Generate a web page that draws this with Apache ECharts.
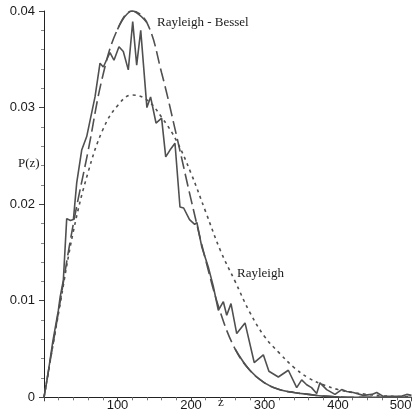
<!DOCTYPE html>
<html>
<head>
<meta charset="utf-8">
<script src="https://cdn.jsdelivr.net/npm/echarts@6/dist/echarts.min.js"></script>
<style>
  html, body { margin: 0; padding: 0; background: #fff; }
  #chart { width: 417px; height: 417px; }
</style>
</head>
<body>
<div id="chart"></div>
<script>
// z grid for the two smooth model curves
const zGrid = [0, 20, 40, 60, 80, 100, 120, 140, 160, 180, 200, 220, 240, 260, 280, 300,
  320, 340, 360, 380, 400, 420, 440, 460, 480, 500]

// Rayleigh - Bessel (long dashes)
const besselP = [0, 0.0090, 0.0180, 0.0255, 0.0333, 0.0381, 0.0400, 0.0388, 0.0336, 0.0272,
  0.0205, 0.0142, 0.0088, 0.0050, 0.0028, 0.0015, 0.0008, 0.0005, 0.0003, 0.00012,
  0.00004, 0, 0, 0, 0, 0]

// Rayleigh (short dashes)
const rayleighP = [0, 0.0088, 0.0172, 0.0233, 0.0277, 0.0302, 0.0313, 0.0308, 0.0290, 0.0266,
  0.0232, 0.0192, 0.0152, 0.0120, 0.0088, 0.0063, 0.0046, 0.0031, 0.0020, 0.0013,
  0.0008, 0.0005, 0.0003, 0.00015, 0.00008, 0.00004]

// simulated distribution (solid, jagged)
const simZ = [0, 5, 12, 19.5, 22, 26.3, 30.9, 36, 40, 44.5, 51.3, 58.1, 69.4, 76.2, 80.7,
  89.8, 95.2, 102, 107.9, 114.7, 120.7, 126.1, 131.6, 140, 145, 152.4, 160, 165.6, 171.4,
  178.2, 185, 190, 198, 205, 208, 214.6, 223.5, 230.3, 237.2, 244, 248.6, 254.4, 262.2,
  273.5, 286, 298.4, 306, 318.8, 332.4, 343.8, 350.6, 357.4, 364, 371, 375.5, 384.6,
  395.9, 405, 412, 420.8, 434.4, 446, 452.7, 461.6, 470, 480, 486, 493.5, 500]
const simP = [0, 0.0022, 0.0058, 0.0090, 0.0104, 0.0121, 0.0185, 0.0183, 0.0184, 0.0222,
  0.0256, 0.0270, 0.0311, 0.0346, 0.0342, 0.0357, 0.0349, 0.0363, 0.0358, 0.0339, 0.0389,
  0.0344, 0.0380, 0.0300, 0.0311, 0.0284, 0.0289, 0.0249, 0.0256, 0.0263, 0.0197, 0.0196,
  0.0184, 0.0179, 0.0181, 0.0156, 0.0135, 0.0115, 0.0090, 0.0099, 0.0085, 0.0097, 0.0066,
  0.0077, 0.0036, 0.0044, 0.0027, 0.0021, 0.0028, 0.0010, 0.0018, 0.0013, 0.0010, 0.0004,
  0.0015, 0.0008, 0.0003, 0.0008, 0.0006, 0.0005, 0.0002, 0.0003, 0.0005, 0.0001, 0.0001,
  0.0001, 0.0001, 0.0003, 0.0002]

const yTicks = [0, 0.01, 0.02, 0.03, 0.04]
const xTicks = [0, 100, 200, 300, 400, 500]

const lineColor = '#505050'
const pairs = (xs, ys) => xs.map((x, i) => [x, ys[i]])

// parts of the Rayleigh - Bessel curve that show up unbroken in the original
const besselSolid = zGrid.map((z, i) =>
  (z >= 100 && z <= 140) || z >= 260 ? [z, besselP[i]] : [z, null])

const chart = echarts.init(document.getElementById('chart'))

const sansFont = { fontFamily: 'Liberation Sans', fontSize: 13, color: '#1a1a1a' }
const serifFont = { fontFamily: 'Liberation Serif', fontSize: 13, fill: '#1a1a1a' }

chart.setOption({
  animation: false,
  backgroundColor: '#fff',
  grid: { left: 44, right: 5.5, top: 11, bottom: 19.7 },
  xAxis: {
    type: 'value',
    min: xTicks[0],
    max: xTicks[xTicks.length - 1],
    interval: 100,
    splitLine: { show: false },
    axisLine: { onZero: false, lineStyle: { color: '#222', width: 1 } },
    axisTick: { length: 4, lineStyle: { color: '#444' } },
    minorTick: { show: true, splitNumber: 5, length: 3, lineStyle: { color: '#777' } },
    axisLabel: {
      ...sansFont,
      margin: 2,
      showMinLabel: false,
      alignMaxLabel: 'right'
    }
  },
  yAxis: {
    type: 'value',
    min: yTicks[0],
    max: yTicks[yTicks.length - 1],
    interval: 0.01,
    splitLine: { show: false },
    axisLine: { onZero: false, lineStyle: { color: '#222', width: 1 } },
    axisTick: { length: 5, lineStyle: { color: '#444' } },
    minorTick: { show: true, splitNumber: 5, length: 3, lineStyle: { color: '#888' } },
    axisLabel: {
      ...sansFont,
      margin: 9,
      formatter: v => (v === 0 ? '0' : v.toFixed(2))
    }
  },
  series: [
    {
      name: 'Rayleigh',
      type: 'line',
      data: pairs(zGrid, rayleighP),
      smooth: 0.4,
      showSymbol: false,
      lineStyle: { color: lineColor, width: 1.6, type: [3, 4] },
      z: 2
    },
    {
      name: 'Rayleigh - Bessel',
      type: 'line',
      data: pairs(zGrid, besselP),
      smooth: 0.4,
      showSymbol: false,
      lineStyle: { color: lineColor, width: 1.6, type: [13, 5] },
      z: 2
    },
    {
      name: 'Rayleigh - Bessel solid',
      type: 'line',
      data: besselSolid,
      smooth: 0.4,
      connectNulls: false,
      showSymbol: false,
      lineStyle: { color: lineColor, width: 1.6 },
      z: 2
    },
    {
      name: 'simulation',
      type: 'line',
      data: pairs(simZ, simP),
      showSymbol: false,
      lineStyle: { color: lineColor, width: 1.6 },
      z: 3
    }
  ],
  graphic: [
    { type: 'text', left: 157, top: 16, style: { text: 'Rayleigh - Bessel', ...serifFont } },
    { type: 'text', left: 237, top: 267, style: { text: 'Rayleigh', ...serifFont } },
    { type: 'text', left: 18, top: 157, style: { text: 'P(z)', ...serifFont } },
    { type: 'text', left: 218, top: 396, style: { text: 'z', ...serifFont } }
  ]
})

window.addEventListener('resize', () => chart.resize())
</script>
</body>
</html>
